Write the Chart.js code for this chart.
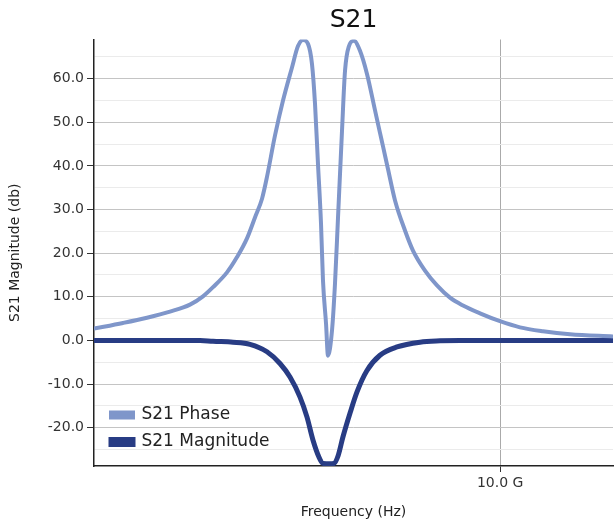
<!DOCTYPE html>
<html>
<head>
<meta charset="utf-8">
<script src="https://cdn.jsdelivr.net/npm/chart.js@4/dist/chart.umd.min.js"></script>
<style>
  html, body { margin: 0; padding: 0; background: #ffffff; }
  #wrap { width: 614px; height: 526px; }
</style>
</head>
<body>
<div id="wrap"><canvas id="c" width="614" height="526"></canvas></div>
<script>
// ---- data (frequency in GHz, values in dB / deg) ----
const phaseFreqGHz = [1.000, 1.643, 2.174, 2.684, 3.127, 3.415, 3.637, 3.947, 4.169, 4.390,
  4.567, 4.723, 4.833, 5.011, 5.188, 5.387, 5.520, 5.631, 5.742, 5.830,
  5.897, 5.963, 6.030, 6.074, 6.141, 6.185, 6.274, 6.340, 6.407, 6.495,
  6.562, 6.650, 6.761, 6.894, 7.049, 7.226, 7.337, 7.404, 7.514, 7.670,
  7.891, 8.068, 8.334, 8.600, 8.888, 9.176, 9.553, 9.996, 10.439, 10.949,
  11.547, 12.500];
const phaseValues = [2.7, 4.0, 5.2, 6.6, 8.2, 10.1, 12.2, 15.6, 19.1, 23.4,
  28.2, 32.5, 37.5, 47.0, 55.0, 62.6, 67.5, 68.9, 68.0, 63.4,
  54.3, 40.5, 26.8, 13.7, 3.9, -3.5, 2.3, 13.0, 28.2, 48.0,
  61.8, 67.5, 68.7, 66.4, 61.1, 52.8, 47.6, 44.5, 39.3, 32.1,
  25.2, 20.6, 16.0, 12.6, 9.8, 8.0, 6.2, 4.4, 3.0, 2.1,
  1.4, 0.9];

const magFreqGHz = [1.000, 3.349, 3.637, 4.080, 4.457, 4.833, 5.121, 5.343, 5.565, 5.720,
  5.853, 5.986, 6.074, 6.230, 6.318, 6.407, 6.517, 6.672, 6.828, 7.049,
  7.337, 7.714, 8.224, 8.667, 9.110, 12.500];
const magValues = [0, 0, -0.2, -0.4, -0.9, -2.6, -5.3, -8.4, -13.0, -17.6,
  -22.9, -26.8, -28.2, -28.3, -28.2, -26.5, -22.1, -16.7, -11.8, -6.9,
  -3.4, -1.5, -0.4, -0.1, 0, 0];

const seriesLabels = ['S21 Phase', 'S21 Magnitude'];
const xTickValuesHz = [10e9];
const chartTitle = 'S21';
const xTitle = 'Frequency (Hz)';
const yTitle = 'S21 Magnitude (db)';

// ---- build ----
const toPts = (fs, vs) => fs.map((f, i) => ({ x: f * 1e9, y: vs[i] }));
const FONT = "'DejaVu Sans', 'Noto Sans', sans-serif";

const legendMover = {
  id: 'legendMover',
  beforeDraw(chart) {
    const lg = chart.legend;
    if (!lg) return;
    lg.left = 101; lg.top = 396.5;
    lg.right = lg.left + 300; lg.bottom = lg.top + 200;
  }
};

new Chart(document.getElementById('c'), {
  type: 'line',
  data: {
    datasets: [
      { label: seriesLabels[0], data: toPts(phaseFreqGHz, phaseValues),
        borderColor: '#7f96ca', backgroundColor: '#7f96ca', borderWidth: 4,
        pointRadius: 0, cubicInterpolationMode: 'monotone', fill: false },
      { label: seriesLabels[1], data: toPts(magFreqGHz, magValues),
        borderColor: '#283c84', backgroundColor: '#283c84', borderWidth: 5,
        pointRadius: 0, cubicInterpolationMode: 'monotone', fill: false }
    ]
  },
  options: {
    responsive: false,
    animation: false,
    layout: { padding: { left: 0, right: 1, top: 0, bottom: 0 } },
    plugins: {
      title: { display: true, text: chartTitle, color: '#111', fullSize: false,
        font: { family: FONT, size: 25, weight: 'normal' },
        padding: { top: 5, bottom: 4.5 } },
      legend: {
        position: 'chartArea', align: 'start',
        labels: { boxWidth: 22, boxHeight: 5, padding: 10, color: '#222',
          font: { family: FONT, size: 17 } }
      },
      tooltip: { enabled: false }
    },
    scales: {
      x: {
        type: 'linear', min: 1e9, max: 12.5e9,
        afterBuildTicks: (axis) => { axis.ticks = xTickValuesHz.map(v => ({ value: v })); },
        afterFit: (s) => { s.height = 60; },
        ticks: { color: '#333', font: { family: FONT, size: 14 }, padding: 3,
          maxRotation: 0, callback: (v) => (v / 1e9).toFixed(1) + ' G' },
        grid: { color: '#aaaaaa', lineWidth: 1, tickLength: 6, tickColor: '#333' },
        border: { display: true, color: '#222', width: 1.5 },
        title: { display: true, text: xTitle, color: '#222',
          font: { family: FONT, size: 14 }, padding: { top: 4, bottom: 5.5 } }
      },
      y: {
        type: 'linear', min: -28.8, max: 69,
        afterFit: (s) => { s.width = 94; },
        ticks: { stepSize: 5, color: '#333', font: { family: FONT, size: 14 }, padding: 3,
          callback: (v) => (Math.abs(v % 10) < 1e-9 ? v.toFixed(1) : '') },
        grid: {
          tickLength: 7,
          color: (ctx) => {
            const v = ctx.tick ? ctx.tick.value : NaN;
            if (Math.abs(v % 10) < 1e-9) return '#c4c4c4';
            if (Math.abs(v % 5) < 1e-9) return '#ebebeb';
            return 'rgba(0,0,0,0)';
          },
          tickColor: (ctx) => {
            const v = ctx.tick ? ctx.tick.value : NaN;
            return Math.abs(v % 10) < 1e-9 ? '#333' : 'rgba(0,0,0,0)';
          }
        },
        border: { display: true, color: '#222', width: 1.5 },
        title: { display: true, text: yTitle, color: '#222',
          font: { family: FONT, size: 14 }, padding: { top: 6.5, bottom: 4 } }
      }
    }
  },
  plugins: [legendMover]
});
</script>
</body>
</html>
